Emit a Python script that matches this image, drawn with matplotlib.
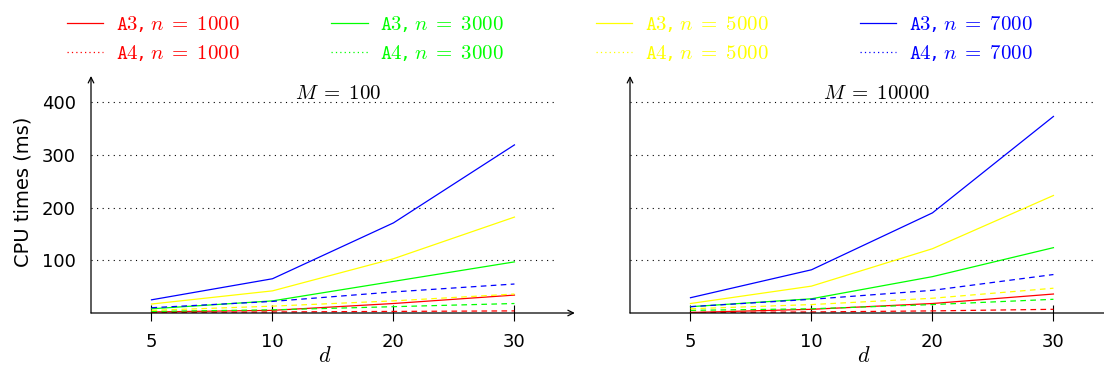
import matplotlib
matplotlib.use('Agg')
import matplotlib.pyplot as plt
from matplotlib.lines import Line2D

plt.rcParams['mathtext.fontset'] = 'cm'
plt.rcParams['font.family'] = ['DejaVu Sans']

# data
d_labels = ['5', '10', '20', '30']
sizes = [1000, 3000, 5000, 7000]
colors = ['#FF0000', '#00FF00', '#FFFF00', '#0000FF']
panel_m = [100, 10000]
y_ticks = [100, 200, 300, 400]

# M = 100
a3_m100 = {1000: [2, 5, 18, 34], 3000: [8, 23, 60, 97],
           5000: [17, 42, 103, 182], 7000: [25, 65, 171, 319]}
a4_m100 = {1000: [1, 2, 3, 4], 3000: [3, 6, 12, 18],
           5000: [5, 13, 23, 36], 7000: [10, 22, 40, 55]}
# M = 10000
a3_m10000 = {1000: [1, 7, 18, 36], 3000: [12, 27, 69, 124],
             5000: [18, 51, 122, 223], 7000: [29, 82, 190, 373]}
a4_m10000 = {1000: [1, 2, 4, 7], 3000: [5, 8, 16, 26],
             5000: [8, 16, 28, 47], 7000: [12, 26, 43, 73]}

a3_all = [a3_m100, a3_m10000]
a4_all = [a4_m100, a4_m10000]

W, H = 1104, 369
fig = plt.figure(figsize=(W / 100, H / 100), dpi=100)

x = list(range(len(d_labels)))
ax_w = 467 / W
ax_h = (313 - 86.4) / H
lefts = [91 / W, 630 / W]

for i in range(2):
    ax = fig.add_axes([lefts[i], 1 - 313 / H, ax_w, ax_h])
    ax.set_xlim(-0.5, 3.36)
    ax.set_ylim(0, 430)
    for s, c in zip(sizes, colors):
        ax.plot(x, a3_all[i][s], color=c, lw=0.9)
        ax.plot(x, a4_all[i][s], color=c, lw=0.9, linestyle=(0, (4.5, 3.5)))
    for sp in ax.spines.values():
        sp.set_visible(False)
    # arrowed axes
    ax.annotate('', xy=(1.036, 0), xytext=(0, 0), xycoords='axes fraction',
                arrowprops=dict(arrowstyle='->', lw=0.9, color='black',
                                shrinkA=0, shrinkB=0), annotation_clip=False)
    ax.annotate('', xy=(0, 1.046), xytext=(0, 0), xycoords='axes fraction',
                arrowprops=dict(arrowstyle='->', lw=0.9, color='black',
                                shrinkA=0, shrinkB=0), annotation_clip=False)
    ax.set_xticks(x)
    ax.set_xticklabels(d_labels)
    ax.tick_params(axis='x', direction='inout', length=11, width=0.8,
                   labelsize=13, pad=9)
    ax.set_yticks(y_ticks)
    ax.tick_params(axis='y', length=0, labelsize=13, pad=11)
    ax.yaxis.grid(True, color='black', lw=0.8, linestyle=(0, (1, 4)))
    ax.set_axisbelow(True)
    ax.set_xlabel('$d$', fontsize=16, labelpad=-4)
    ax.text(0.529, 0.971, r'$M\;=\;%d$' % panel_m[i], transform=ax.transAxes,
            fontsize=15, ha='center', va='center')
    if i == 0:
        ax.set_ylabel('CPU times (ms)', fontsize=14)
        ax.yaxis.set_label_coords(-0.126, 0.534)
    else:
        ax.tick_params(axis='y', labelleft=False)

handles = []
labels = []
for s, c in zip(sizes, colors):
    handles.append(Line2D([], [], color=c, lw=0.9))
    labels.append(r'$\mathtt{A3}$, $n\;=\;%d$' % s)
    handles.append(Line2D([], [], color=c, lw=0.9, linestyle=(0, (1, 2.5))))
    labels.append(r'$\mathtt{A4}$, $n\;=\;%d$' % s)

leg = fig.legend(handles, labels, ncol=4, loc='upper left',
                 bbox_to_anchor=(67 / W, 1 - 14 / H), frameon=False,
                 fontsize=15, handlelength=1.75, handletextpad=0.6,
                 columnspacing=4.4, labelspacing=0.45, borderpad=0,
                 borderaxespad=0, labelcolor='linecolor')

fig.savefig('out.png', dpi=100)
